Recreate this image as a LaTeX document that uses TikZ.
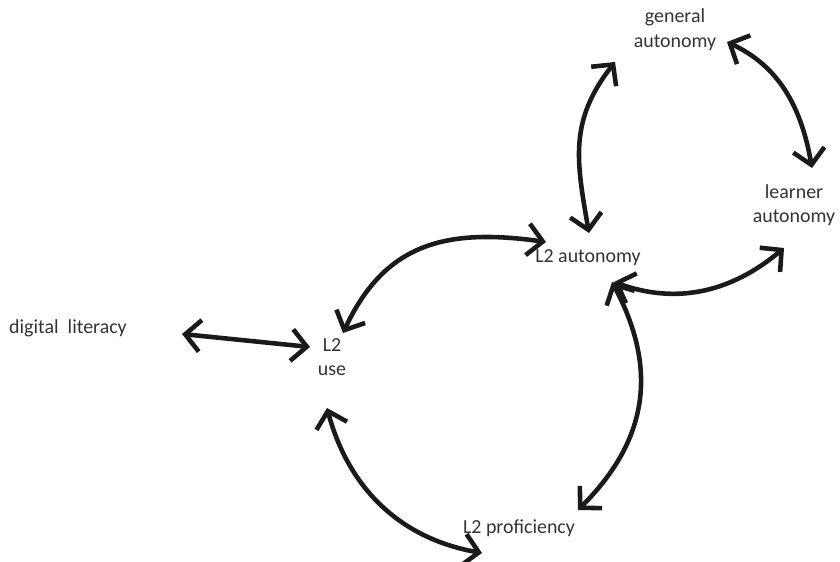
\documentclass[tikz,border=0pt]{standalone}
\usepackage{fontspec}
\setmainfont{Carlito}
\usetikzlibrary{arrows.meta}
\definecolor{txtgrey}{HTML}{333333}
\definecolor{arrowblk}{HTML}{1A1A1A}
\begin{document}
\begin{tikzpicture}[x=0.03cm, y=0.03cm,
    concept/.style={text=txtgrey, align=center, inner sep=1pt,
      font=\fontsize{17}{21}\selectfont},
    link/.style={<->, >={Straight Barb[length=13pt, width=27pt]},
      line width=3.9pt, draw=arrowblk}]
  \useasboundingbox (0,0) rectangle (840,562);

  \begin{scope}[every node/.style={concept}]
    \node (ga) at (675,532) {general\\autonomy};
    \node (la) at (794,357) {learner\\autonomy};
    \node (l2a) at (588,304) {L2 autonomy};
    \node (dl) at (68,234) {digital\ \ literacy};
    \node (use) at (332,205) {L2\\use};
    \node (prof) at (519,34) {L2 proficiency};
  \end{scope}

  \begin{scope}[link]
    \draw ([shift={(-60,-32)}]ga.center) to [out=232, in=100, looseness=1.1]
      ([shift={(1,25)}]l2a.center);
    \draw ([shift={(52,-12)}]ga.center) to [out=-25, in=100]
      ([shift={(18,37)}]la.center);
    \draw ([shift={(26,-24)}]l2a.center) to [out=-20, in=220]
      ([shift={(-10,-43)}]la.center);
    \draw ([shift={(-42,16)}]l2a.center) to [out=172, in=65, looseness=1.15]
      ([shift={(11,24)}]use.center);
    \draw ([shift={(114,-6)}]dl.center) --
      ([shift={(-22,10)}]use.center);
    \draw ([shift={(-5,-51)}]use.center) to [out=-75, in=170]
      ([shift={(-37,-25)}]prof.center);
    \draw ([shift={(24,-24)}]l2a.center) to [out=-62, in=45, looseness=1.1]
      ([shift={(59,18)}]prof.center);
  \end{scope}
\end{tikzpicture}
\end{document}
